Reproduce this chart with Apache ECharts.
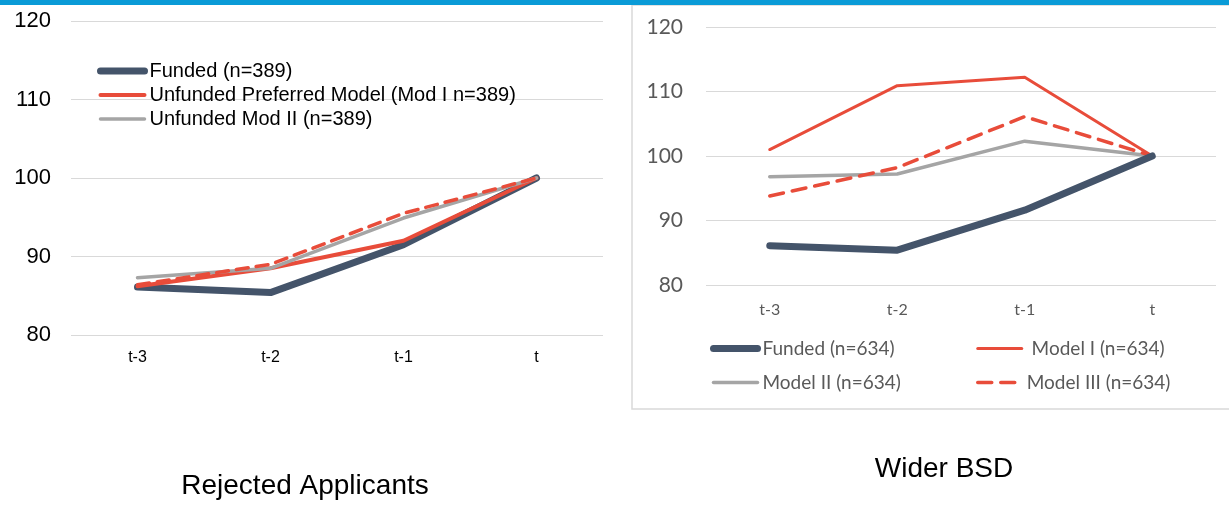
<!DOCTYPE html>
<html>
<head>
<meta charset="utf-8">
<script src="https://cdn.jsdelivr.net/npm/echarts@6/dist/echarts.min.js"></script>
<style>
  html, body { margin: 0; padding: 0; background: #fff; }
  #chart { width: 1229px; height: 507px; }
</style>
</head>
<body>
<div id="chart"></div>
<script>
// Periods relative to funding year
const periods = ['t-3', 't-2', 't-1', 't'];
const yTicks = [80, 90, 100, 110, 120];

// Rejected applicants panel (index, t = 100)
const rejFunded = [86.1, 85.4, 91.5, 100];
const rejModI = [86.2, 88.5, 92.0, 100];
const rejModII = [87.3, 88.5, 94.9, 100];
const rejModIII = [86.4, 89.0, 95.5, 100];

// Wider BSD panel (index, t = 100)
const bsdFunded = [86.1, 85.4, 91.6, 100];
const bsdModI = [101.0, 110.9, 112.2, 100];
const bsdModII = [96.8, 97.2, 102.3, 100];
const bsdModIII = [93.8, 98.2, 106.1, 100];

// Legend labels and panel titles
const rejNames = ['Funded (n=389)', 'Unfunded Preferred Model (Mod I n=389)', 'Unfunded Mod II (n=389)', 'Unfunded Mod III (n=389)'];
const bsdNames = ['Funded (n=634)', ' Model I (n=634)', 'Model II (n=634)', 'Model III (n=634)'];
const titles = ['Rejected Applicants', 'Wider BSD'];

const DARK = '#44546A', RED = '#E84C3A', GREY = '#A5A5A5';
const ARIAL = '"Liberation Sans", Arial, sans-serif';
const CAL = 'Lato, "Open Sans", sans-serif';

const chart = echarts.init(document.getElementById('chart'), null, { renderer: 'canvas' });

function yAxisFor(gridIndex, labelStyle) {
  return {
    type: 'value', gridIndex, min: yTicks[0], max: yTicks[yTicks.length - 1], interval: 10,
    axisLine: { show: false }, axisTick: { show: false },
    splitLine: { lineStyle: { color: '#D9D9D9', width: 1 } },
    axisLabel: labelStyle
  };
}
function xAxisFor(gridIndex, labelStyle) {
  return {
    type: 'category', gridIndex, data: periods, boundaryGap: true,
    axisLine: { show: false }, axisTick: { show: false },
    axisLabel: labelStyle
  };
}
function line(name, data, idx, color, width, dash, z) {
  return {
    type: 'line', name, data, xAxisIndex: idx, yAxisIndex: idx,
    symbol: 'none', z: z || 2, smooth: false,
    lineStyle: { color, width, type: dash || 'solid', cap: 'round', join: 'round' },
    itemStyle: { color },
    emphasis: { disabled: true }
  };
}
// Legend icons: plain line strokes using the series line style, no marker
function legendFor(names, left, top, font, size, color, gap) {
  return {
    data: names, orient: 'vertical', left, top, padding: 0,
    itemWidth: 44, itemHeight: 14, itemGap: gap,
    itemStyle: { opacity: 0 },
    lineStyle: { width: 'inherit' },
    textStyle: { fontFamily: font, fontSize: size, color, lineHeight: size + 2 },
    selectedMode: false
  };
}

chart.setOption({
  animation: false,
  backgroundColor: '#fff',
  grid: [
    { left: 71, right: 626, top: 21, bottom: 172 },
    { left: 706, right: 13, top: 27, bottom: 222 }
  ],
  xAxis: [
    xAxisFor(0, { fontFamily: ARIAL, fontSize: 16, color: '#000', margin: 15 }),
    xAxisFor(1, { fontFamily: CAL, fontSize: 16, color: '#595959', margin: 17 })
  ],
  yAxis: [
    yAxisFor(0, { fontFamily: ARIAL, fontSize: 22, color: '#000', margin: 20 }),
    yAxisFor(1, { fontFamily: CAL, fontSize: 21, color: '#595959', margin: 23 })
  ],
  legend: [
    legendFor(rejNames.slice(0, 3), 97, 60, ARIAL, 20, '#000', 2),
    legendFor([bsdNames[0], bsdNames[2]], 710, 338, CAL, 19, '#595959', 13),
    legendFor([bsdNames[1], bsdNames[3]], 976, 338, CAL, 19, '#595959', 13)
  ],
  title: [
    { text: titles[0], left: 305, top: 472, textAlign: 'center', padding: 0,
      textStyle: { fontFamily: ARIAL, fontSize: 28, fontWeight: 'normal', color: '#000' } },
    { text: titles[1], left: 944, top: 455, textAlign: 'center', padding: 0,
      textStyle: { fontFamily: ARIAL, fontSize: 28, fontWeight: 'normal', color: '#000' } }
  ],
  graphic: [
    { type: 'rect', shape: { x: 0, y: 0, width: 1229, height: 5 }, style: { fill: '#0A9BD7' }, z: 10 },
    { type: 'rect', shape: { x: 632, y: 5, width: 620, height: 404 }, style: { fill: 'none', stroke: '#D9D9D9', lineWidth: 1.5 }, z: 0 }
  ],
  series: [
    line(rejNames[0], rejFunded, 0, DARK, 7),
    line(rejNames[1], rejModI, 0, RED, 4),
    line(rejNames[2], rejModII, 0, GREY, 3.5),
    line(rejNames[3], rejModIII, 0, RED, 3.5, [12, 8]),
    line(bsdNames[1], bsdModI, 1, RED, 3),
    line(bsdNames[2], bsdModII, 1, GREY, 3.5),
    line(bsdNames[3], bsdModIII, 1, RED, 3.5, [14, 9]),
    line(bsdNames[0], bsdFunded, 1, DARK, 7, null, 3)
  ]
});
</script>
</body>
</html>
